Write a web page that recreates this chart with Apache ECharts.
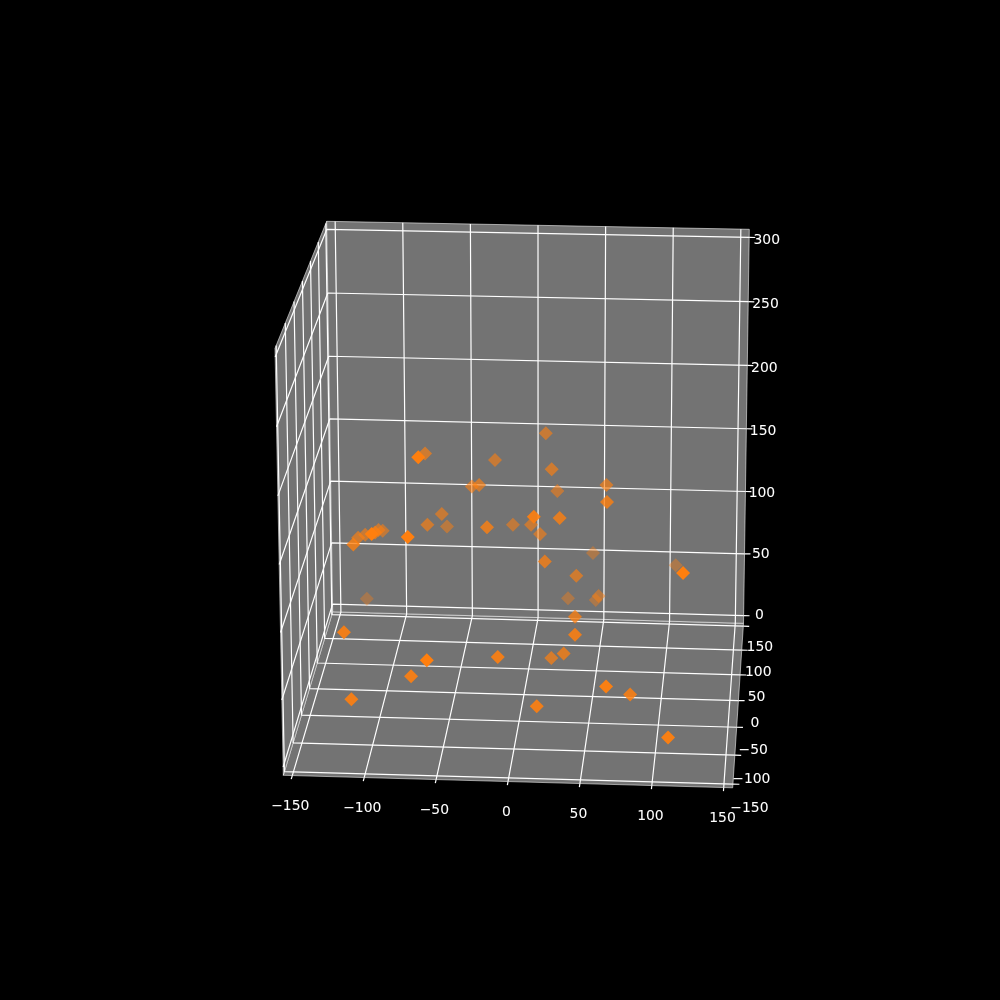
<!DOCTYPE html>
<html>
<head>
<meta charset="utf-8">
<style>html,body{margin:0;padding:0;background:#000}#c{width:1000px;height:1000px}</style>
<script src="https://cdn.jsdelivr.net/npm/echarts@6/dist/echarts.min.js"></script>
</head>
<body>
<div id="c"></div>
<script>
// Data (x, y = depth, z)
const xValues = [-65,-72.8,-97.8,118.6,-60.3,64.5,-122,-13.2,-74.8,-117.4,14.4,108.6,40.5,80,-118.2,-23.1,62,28.5,12.4,16.8,38.5,30.4,-106.2,20.4,-71.4,-32.7,-70.2,-120.3,19.5,58.9,37.4,-22.5,-39.3,-61.2,-107.3,-117,14.2,3.5,10,-105.9,21.5,-10.8,-60.4,51,44.9,106.4,26.4,47.1,-125.3];
const yValues = [-109,-109,-109,-109,-109,-92,-75,-75,-75,-75,-75,-92,-58.5,-58.5,-42,-42,-42,-42,-75,-25,-25,-25,-8,-8,9,9,9,9,9,9,9,26,26,26,26,26,26,26,26,42,42,42,59,59,93,93,93,93,110];
const zValues = [213.2,154.4,156,132.5,62.7,39.6,68.5,52.8,36.4,17.6,16.1,2.2,64.5,20.2,122.5,138,159.2,146.4,158.9,106.8,65,36.7,119.5,26,174.8,151.6,120.2,108.8,165,153.8,83.6,165.1,144.2,122.5,108.9,105,186.4,115.9,108.9,102.6,136.7,109.8,100.8,49.3,70.6,62.4,34.1,33.2,22.9];
const xTicks = [-150,-100,-50,0,50,100,150];
const yTicks = [-150,-100,-50,0,50,100,150];
const zTicks = [0,50,100,150,200,250,300];

// Axis limits of the box
const XMIN=-156.25, XMAX=156.25, YMIN=-156.25, YMAX=156.25, ZMIN=-6.25, ZMAX=306.25;

// Calibration of the camera: where the box corners fall on the page
const CAM = {
  fbl:[283.3,775.3], fbr:[732.7,787.8], ftl:[275,348.3], ftr:[738.8,356.8],
  bbl:[332.7,611.8], bbr:[743.5,623.3], btl:[326.7,221.3], btr:[749.3,229.3]
};
function lerp(a,b,s){return [a[0]+(b[0]-a[0])*s, a[1]+(b[1]-a[1])*s];}
function project(x,y,z){
  const u=(x-XMIN)/(XMAX-XMIN), t=(y-YMIN)/(YMAX-YMIN), h=(z-ZMIN)/(ZMAX-ZMIN);
  const g=1.13*t/(1+0.13*t), v=h/(1.025-0.025*h);
  const bl=lerp(CAM.fbl,CAM.bbl,g), br=lerp(CAM.fbr,CAM.bbr,g), tl=lerp(CAM.ftl,CAM.btl,g), tr=lerp(CAM.ftr,CAM.btr,g);
  return lerp(lerp(bl,br,u),lerp(tl,tr,u),v);
}
function depthAlpha(y){return Math.max(0.3,Math.min(1,1-(y+109)/336.6));}

const panes=[
  [[XMIN,YMIN,ZMIN],[XMAX,YMIN,ZMIN],[XMAX,YMAX,ZMIN],[XMIN,YMAX,ZMIN]],
  [[XMIN,YMIN,ZMIN],[XMIN,YMAX,ZMIN],[XMIN,YMAX,ZMAX],[XMIN,YMIN,ZMAX]],
  [[XMIN,YMAX,ZMIN],[XMAX,YMAX,ZMIN],[XMAX,YMAX,ZMAX],[XMIN,YMAX,ZMAX]]
];

const grid3d=[];
xTicks.forEach(x=>grid3d.push([[x,YMIN,ZMIN],[x,YMAX,ZMIN],[x,YMAX,ZMAX]]));
yTicks.forEach(y=>grid3d.push([[XMAX,y,ZMIN],[XMIN,y,ZMIN],[XMIN,y,ZMAX]]));
zTicks.forEach(z=>grid3d.push([[XMAX,YMAX,z],[XMIN,YMAX,z],[XMIN,YMIN,z]]));

const ticks3d=[];
xTicks.forEach(x=>ticks3d.push([[x,YMIN,ZMIN],[x,YMIN-6,ZMIN]]));
yTicks.forEach(y=>ticks3d.push([[XMAX,y,ZMIN],[XMAX+4.5,y,ZMIN]]));
zTicks.forEach(z=>ticks3d.push([[XMAX,YMAX,z],[XMAX+4.5,YMAX,z]]));

function txt(v){return String(v).replace('-','\u2212');}
const labels=[];
xTicks.forEach(x=>labels.push({value:project(x,YMIN-6,ZMIN),name:txt(x),off:[-1,27.5]}));
yTicks.forEach(y=>labels.push({value:project(XMAX,y,ZMIN),name:txt(y),off:[16.5,24.5-3*(y+150)/300]}));
zTicks.forEach(z=>{const s=z/300;labels.push({value:project(XMAX+4.5,YMAX,z),name:txt(z),off:[10+1.5*s,-0.8+3.5*s+6*s*(1-s)]});});

function lineSeries(pts,width,color){
  return {type:'line',data:pts.map(p=>project(p[0],p[1],p[2])),symbol:'none',silent:true,z:3,
    lineStyle:{color:color,width:width},animation:false};
}

const order=xValues.map((_,i)=>i).sort((a,b)=>yValues[b]-yValues[a]);
const points=order.map(i=>({value:project(xValues[i],yValues[i],zValues[i]),
  itemStyle:{opacity:depthAlpha(yValues[i])}}));

const chart=echarts.init(document.getElementById('c'),null,{renderer:'canvas'});
chart.setOption({
  backgroundColor:'#000',
  animation:false,
  grid:{left:0,right:0,top:0,bottom:0},
  xAxis:{type:'value',min:0,max:1000,show:false},
  yAxis:{type:'value',min:0,max:1000,inverse:true,show:false},
  series:[
    {type:'custom',silent:true,z:1,data:panes.map((_,i)=>[i,0]),clip:false,
     renderItem:function(params,api){
       const poly=panes[params.dataIndex].map(p=>api.coord(project(p[0],p[1],p[2])));
       return {type:'polygon',shape:{points:poly},style:{fill:'#737373',stroke:'rgba(255,255,255,0.55)',lineWidth:1}};
     }},
    ...grid3d.map(g=>lineSeries(g,1.2,'#ffffff')),
    ...ticks3d.map(g=>lineSeries(g,1.2,'#ffffff')),
    {type:'scatter',z:5,symbol:'diamond',symbolSize:14,data:points,silent:true,
     itemStyle:{color:'#ff7f0e'}},
    {type:'scatter',z:6,symbolSize:1,silent:true,itemStyle:{color:'transparent',opacity:1},
     data:labels.map(l=>({value:l.value,name:l.name,label:{
        show:true,position:'inside',offset:l.off,formatter:l.name,color:'#ffffff',opacity:1,
        textBorderColor:'rgba(255,255,255,0.5)',textBorderWidth:0.1,
        fontFamily:'DejaVu Sans',fontSize:13.9,align:'center',verticalAlign:'middle'}}))}
  ]
});
</script>
</body>
</html>
